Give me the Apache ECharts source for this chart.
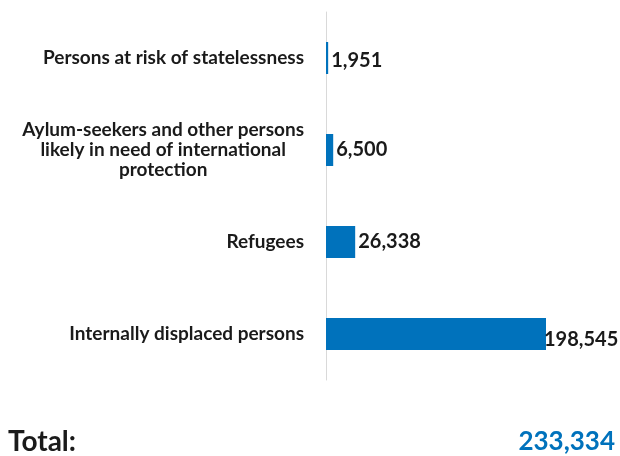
<!DOCTYPE html>
<html>
<head>
<meta charset="utf-8">
<script src="https://cdn.jsdelivr.net/npm/echarts@6/dist/echarts.min.js"></script>
<style>html,body{margin:0;padding:0;background:#fff;}#c{width:620px;height:456px;}</style>
</head>
<body>
<div id="c"></div>
<script>
const categories = [
  'Persons at risk of statelessness',
  'Aylum-seekers and other persons\nlikely in need of international\nprotection',
  'Refugees',
  'Internally displaced persons'
];
const values = [1951, 6500, 26338, 198545];
const totalLabel = 'Total:';
const totalValue = 233334;

const fmt = v => v.toLocaleString('en-US');
const chart = echarts.init(document.getElementById('c'));
chart.setOption({
  animation: false,
  grid: { left: 326, right: 74, top: 12, bottom: 76, containLabel: false },
  xAxis: { type: 'value', min: 0, max: 198545, show: false },
  yAxis: {
    type: 'category', data: categories, inverse: true,
    axisLine: { show: true, lineStyle: { color: '#d9d9d9', width: 1 } },
    axisTick: { show: false },
    axisLabel: {
      margin: 22, align: 'right',
      formatter: v => v.split('\n').map(s => '{c|' + s + '}').join('\n'),
      rich: { c: { align: 'center', fontFamily: 'Lato', fontWeight: 'bold', fontSize: 19, color: '#1a1a1a', lineHeight: 20 } }
    }
  },
  series: [{
    type: 'bar',
    data: values.map((v, i) => i === 3 ? { value: v, label: { offset: [-5, 6] } } : (i === 0 ? { value: v, label: { offset: [0, 3] } } : v)),
    barWidth: 32,
    itemStyle: { color: '#0072BC' },
    label: {
      show: true, position: 'right', distance: 3,
      formatter: p => fmt(p.value),
      fontFamily: 'Lato', fontWeight: 'bold', fontSize: 20, color: '#1a1a1a'
    }
  }],
  graphic: [
    { type: 'text', left: 8, top: 428, style: { text: totalLabel, font: 'bold 28px Lato', fill: '#1a1a1a' } },
    { type: 'text', right: 5, top: 429, style: { text: fmt(totalValue), font: 'bold 26px Lato', fill: '#0072BC' } }
  ]
});
</script>
</body>
</html>
